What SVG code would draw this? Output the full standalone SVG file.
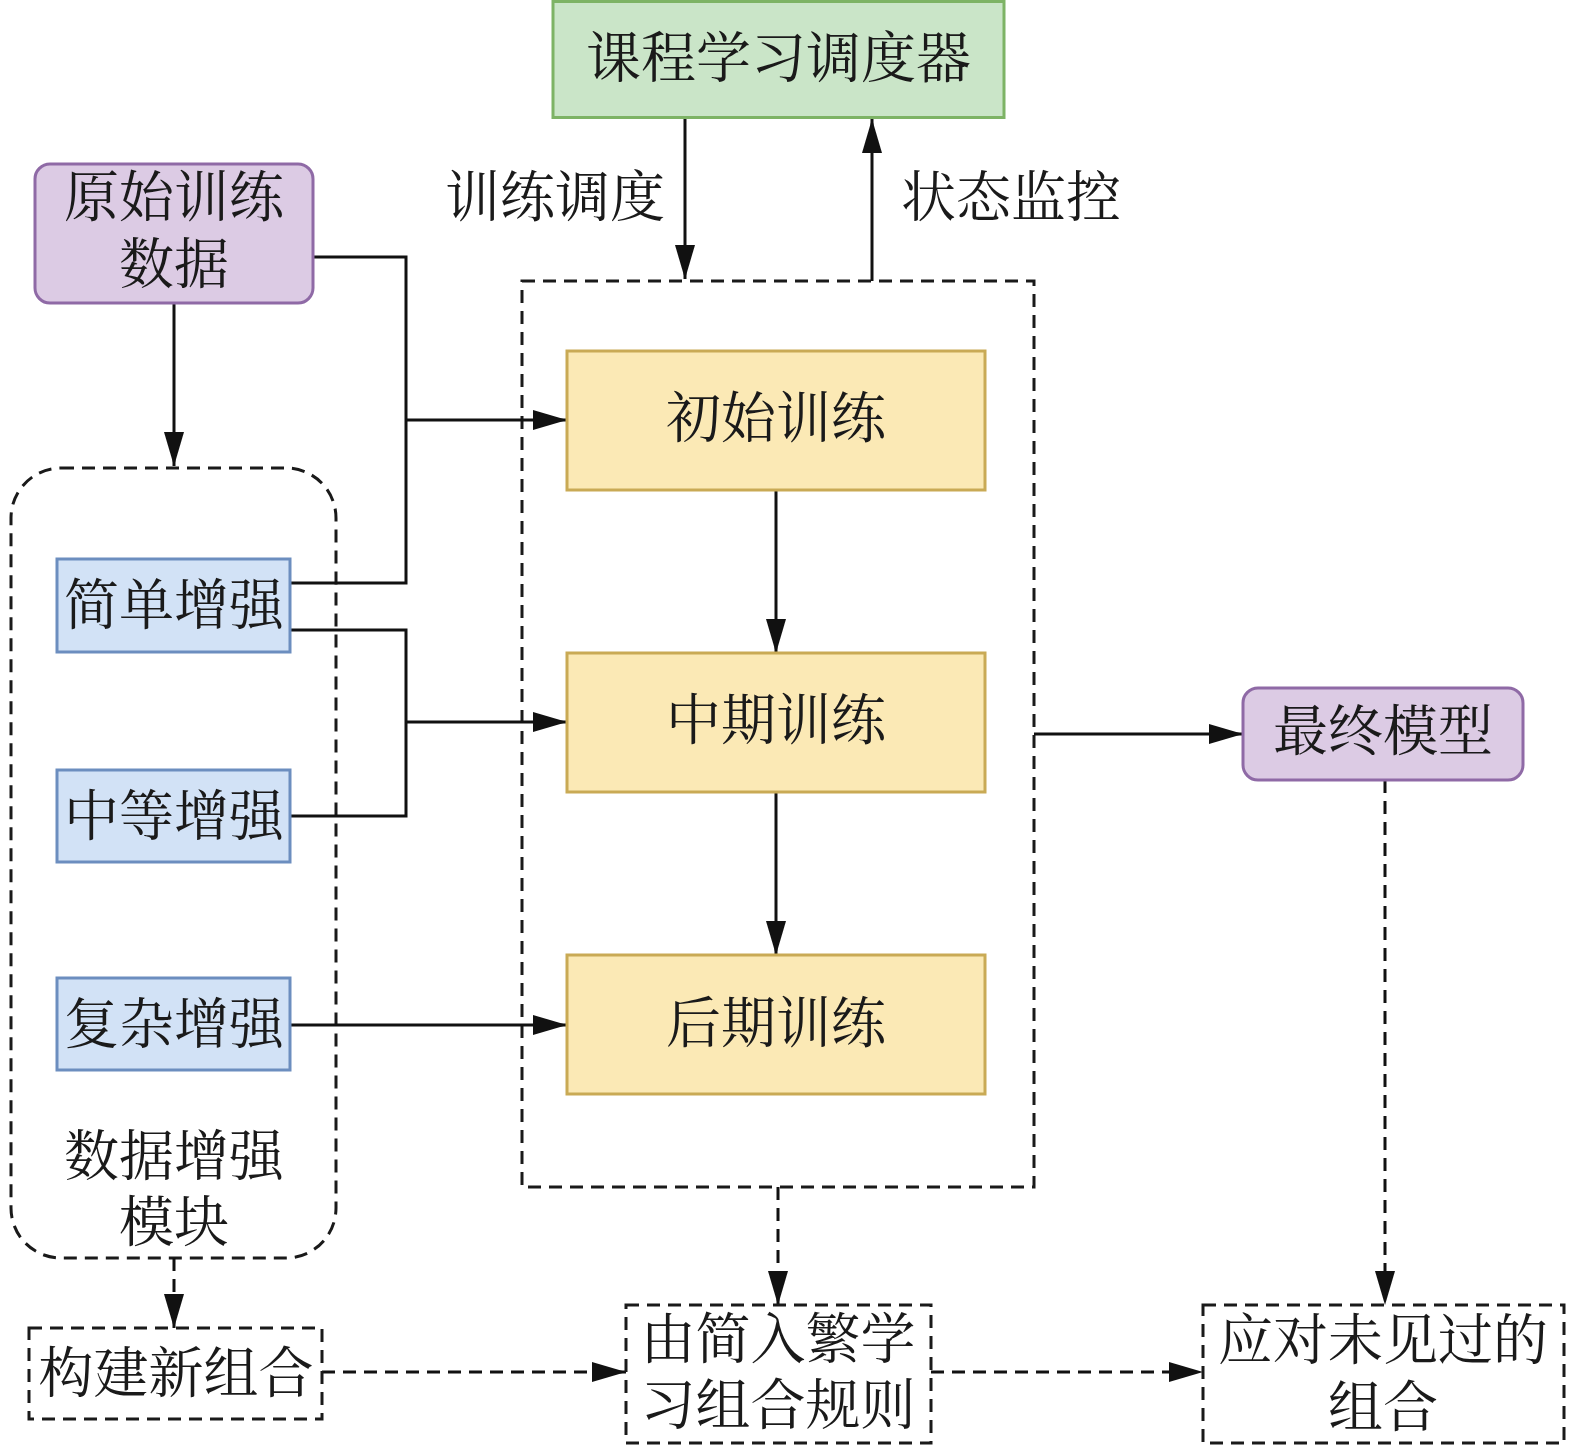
<svg xmlns="http://www.w3.org/2000/svg" width="1575" height="1446" viewBox="0 0 1575 1446">
<defs>
<marker id="ah" markerUnits="userSpaceOnUse" markerWidth="34" markerHeight="20" refX="34" refY="10" orient="auto">
<path d="M0,0 L34,10 L0,20 z" fill="#111"/>
</marker>
<style>
text{font-family:"Noto Serif CJK SC","Noto Sans CJK SC",serif;font-size:55px;fill:#1a1a1a;text-anchor:middle;dominant-baseline:central}
.green{fill:#cae5c8;stroke:#7db365;stroke-width:3}
.purple{fill:#dccbe4;stroke:#8f6aa6;stroke-width:3}
.blue{fill:#d2e2f6;stroke:#6c8ebf;stroke-width:3}
.yellow{fill:#fbe9b5;stroke:#c9aa55;stroke-width:3}
.dbox{fill:none;stroke:#1a1a1a;stroke-width:3;stroke-dasharray:13 8}
.line{fill:none;stroke:#111;stroke-width:3}
.dline{fill:none;stroke:#111;stroke-width:3;stroke-dasharray:13 8}
</style>
</defs>

<g id="aug-module">
<rect class="dbox" x="11" y="468" width="325" height="790" rx="50"/>
<text x="174" y="1151">数据增强<tspan x="174" dy="66">模块</tspan></text>
</g>
<g id="training-stage">
<rect class="dbox" x="522" y="281" width="512" height="906"/>
</g>

<g id="connectors">
<line class="line" x1="174" y1="303" x2="174" y2="466" marker-end="url(#ah)"/>
<polyline class="line" points="313,257 406,257 406,583 290,583"/>
<line class="line" x1="406" y1="420" x2="567" y2="420" marker-end="url(#ah)"/>
<polyline class="line" points="290,630 406,630 406,816 290,816"/>
<line class="line" x1="406" y1="722" x2="567" y2="722" marker-end="url(#ah)"/>
<line class="line" x1="290" y1="1025" x2="567" y2="1025" marker-end="url(#ah)"/>
<line class="line" x1="776" y1="490" x2="776" y2="653" marker-end="url(#ah)"/>
<line class="line" x1="776" y1="792" x2="776" y2="955" marker-end="url(#ah)"/>
<line class="line" x1="685" y1="118" x2="685" y2="279" marker-end="url(#ah)"/>
<line class="line" x1="872" y1="281" x2="872" y2="119" marker-end="url(#ah)"/>
<line class="line" x1="1034" y1="734" x2="1243" y2="734" marker-end="url(#ah)"/>
<line class="dline" x1="1385" y1="780" x2="1385" y2="1305" marker-end="url(#ah)"/>
<line class="dline" x1="778" y1="1187" x2="778" y2="1305" marker-end="url(#ah)"/>
<line class="dline" x1="174" y1="1258" x2="174" y2="1328" marker-end="url(#ah)"/>
<line class="dline" x1="322" y1="1372" x2="626" y2="1372" marker-end="url(#ah)"/>
<line class="dline" x1="931" y1="1372" x2="1203" y2="1372" marker-end="url(#ah)"/>
<text x="555" y="192">训练调度</text>
<text x="1011" y="192">状态监控</text>
</g>

<g id="scheduler">
<rect class="green" x="553" y="1.5" width="451" height="116"/>
<text x="778.5" y="53">课程学习调度器</text>
</g>
<g id="raw-data">
<rect class="purple" x="35" y="164" width="278" height="139" rx="15"/>
<text x="174" y="192">原始训练<tspan x="174" dy="67">数据</tspan></text>
</g>
<g id="easy-aug">
<rect class="blue" x="57" y="559" width="233" height="93"/>
<text x="174" y="600">简单增强</text>
</g>
<g id="medium-aug">
<rect class="blue" x="57" y="770" width="233" height="92"/>
<text x="174" y="811">中等增强</text>
</g>
<g id="hard-aug">
<rect class="blue" x="57" y="978" width="233" height="92"/>
<text x="174" y="1019">复杂增强</text>
</g>
<g id="initial-train">
<rect class="yellow" x="567" y="351" width="418" height="139"/>
<text x="776" y="413">初始训练</text>
</g>
<g id="mid-train">
<rect class="yellow" x="567" y="653" width="418" height="139"/>
<text x="776" y="715">中期训练</text>
</g>
<g id="late-train">
<rect class="yellow" x="567" y="955" width="418" height="139"/>
<text x="776" y="1018">后期训练</text>
</g>
<g id="final-model">
<rect class="purple" x="1243" y="688" width="280" height="92" rx="15"/>
<text x="1383" y="726">最终模型</text>
</g>
<g id="new-combo">
<rect class="dbox" x="29" y="1328" width="293" height="91"/>
<text x="176" y="1368">构建新组合</text>
</g>
<g id="simple-to-complex">
<rect class="dbox" x="626" y="1305" width="305" height="138"/>
<text x="778" y="1334">由简入繁学<tspan x="778" dy="66">习组合规则</tspan></text>
</g>
<g id="unseen">
<rect class="dbox" x="1203" y="1305" width="361" height="138"/>
<text x="1383" y="1335">应对未见过的<tspan x="1383" dy="67">组合</tspan></text>
</g>
</svg>
